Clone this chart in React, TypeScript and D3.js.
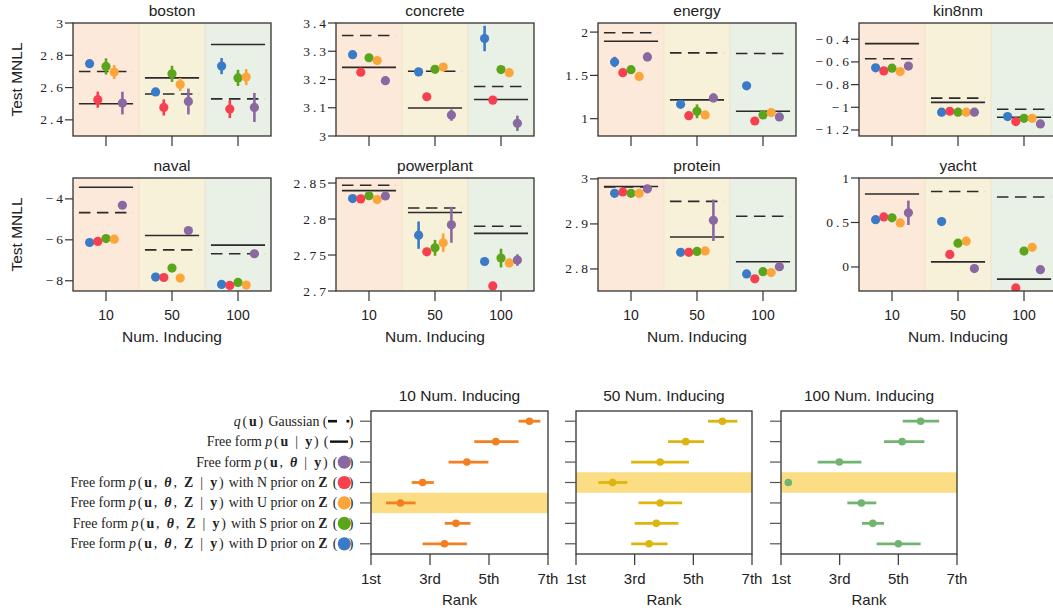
import * as d3 from "d3";

const W = 1053;
const H = 616;

const inducing = ["10", "50", "100"];
const methods = ["D", "N", "S", "U", "theta"];
const methodColors = ["#3a7bc8", "#f6404f", "#5aa51c", "#fca53a", "#8a68a1"];
const bandColors = ["#fde9d9", "#f7f1da", "#e9f0e6"];

// ---- Test MNLL per dataset: rows = num. inducing (10, 50, 100), cols = D, N, S, U, theta
const bostonMeans = [[2.748, 2.525, 2.731, 2.696, 2.504], [2.573, 2.477, 2.685, 2.619, 2.514], [2.733, 2.467, 2.66, 2.665, 2.477]];
const bostonErrs = [[0.02, 0.05, 0.05, 0.043, 0.07], [0.015, 0.05, 0.05, 0.04, 0.08], [0.05, 0.056, 0.05, 0.05, 0.09]];
const bostonGauss = [2.7, 2.56, 2.53];
const bostonFree = [2.5, 2.66, 2.867];

const concreteMeans = [[3.288, 3.226, 3.277, 3.267, 3.196], [3.227, 3.139, 3.236, 3.244, 3.074], [3.345, 3.127, 3.235, 3.224, 3.045]];
const concreteErrs = [[0.01, 0.01, 0.014, 0.008, 0.01], [0.01, 0.01, 0.01, 0.01, 0.02], [0.045, 0.005, 0.005, 0.005, 0.027]];
const concreteGauss = [3.356, 3.229, 3.175];
const concreteFree = [3.243, 3.099, 3.129];

const energyMeans = [[1.655, 1.531, 1.566, 1.488, 1.713], [1.166, 1.035, 1.085, 1.043, 1.24], [1.38, 0.973, 1.043, 1.07, 1.02]];
const energyErrs = [[0.06, 0.03, 0.03, 0.03, 0.05], [0.03, 0.04, 0.08, 0.03, 0.05], [0.02, 0.03, 0.03, 0.02, 0.03]];
const energyGauss = [1.992, 1.76, 1.752];
const energyFree = [1.895, 1.217, 1.085];

const kin8nmMeans = [[-0.652, -0.679, -0.655, -0.685, -0.637], [-1.043, -1.035, -1.043, -1.043, -1.043], [-1.082, -1.126, -1.097, -1.097, -1.147]];
const kin8nmErrs = [[0.01, 0.01, 0.01, 0.01, 0.01], [0.01, 0.01, 0.01, 0.01, 0.01], [0.01, 0.01, 0.01, 0.01, 0.01]];
const kin8nmGauss = [-0.572, -0.919, -1.017];
const kin8nmFree = [-0.439, -0.957, -1.088];

const navalMeans = [[-6.13, -6.08, -5.94, -5.97, -4.31], [-7.82, -7.84, -7.38, -7.87, -5.55], [-8.18, -8.23, -8.08, -8.21, -6.68]];
const navalErrs = [[0.05, 0.05, 0.05, 0.05, 0.05], [0.05, 0.05, 0.05, 0.05, 0.05], [0.05, 0.05, 0.05, 0.05, 0.05]];
const navalGauss = [-4.67, -6.49, -6.68];
const navalFree = [-3.43, -5.79, -6.26];

const powerplantMeans = [[2.8284, 2.828, 2.8325, 2.827, 2.832], [2.7776, 2.7544, 2.76, 2.767, 2.792], [2.741, 2.707, 2.7457, 2.739, 2.743]];
const powerplantErrs = [[0.003, 0.003, 0.004, 0.005, 0.004], [0.019, 0.004, 0.011, 0.013, 0.025], [0.005, 0.003, 0.013, 0.006, 0.008]];
const powerplantGauss = [2.847, 2.8154, 2.79];
const powerplantFree = [2.8395, 2.809, 2.78];

const proteinMeans = [[2.968, 2.971, 2.968, 2.968, 2.978], [2.837, 2.837, 2.839, 2.84, 2.908], [2.789, 2.778, 2.794, 2.792, 2.805]];
const proteinErrs = [[0.003, 0.003, 0.003, 0.003, 0.003], [0.003, 0.003, 0.003, 0.003, 0.046], [0.004, 0.004, 0.004, 0.004, 0.004]];
const proteinGauss = [2.982, 2.95, 2.917];
const proteinFree = [2.983, 2.871, 2.816];

const yachtMeans = [[0.532, 0.563, 0.552, 0.495, 0.609], [0.51, 0.141, 0.267, 0.29, -0.018], [null, -0.235, 0.179, 0.221, -0.03]];
const yachtErrs = [[0.03, 0.03, 0.03, 0.03, 0.137], [0.02, 0.02, 0.02, 0.02, 0.02], [0.02, 0.02, 0.02, 0.02, 0.02]];
const yachtGauss = [null, 0.848, 0.787];
const yachtFree = [0.821, 0.057, -0.137];

// ---- Rank summary (rows top to bottom)
const rankLabels = [
  "{i:q}{m:(}{b:u}{m:)} Gaussian (",
  "Free form {i:p}{m:(}{b:u}{m: | }{b:y}{m:)} (",
  "Free form {i:p}{m:(}{b:u}{m:, }{bi:θ}{m: | }{b:y}{m:)} (",
  "Free form {i:p}{m:(}{b:u}{m:, }{bi:θ}{m:, }{b:Z}{m: | }{b:y}{m:)} with N prior on {b:Z} (",
  "Free form {i:p}{m:(}{b:u}{m:, }{bi:θ}{m:, }{b:Z}{m: | }{b:y}{m:)} with U prior on {b:Z} (",
  "Free form {i:p}{m:(}{b:u}{m:, }{bi:θ}{m:, }{b:Z}{m: | }{b:y}{m:)} with S prior on {b:Z} (",
  "Free form {i:p}{m:(}{b:u}{m:, }{bi:θ}{m:, }{b:Z}{m: | }{b:y}{m:)} with D prior on {b:Z} (",
];
const rankMarkerColors = [null, null, "#8a68a1", "#f6404f", "#fca53a", "#5aa51c", "#3a7bc8"];

const rank10Mean = [6.37, 5.23, 4.25, 2.75, 2.0, 3.88, 3.49];
const rank10Lo = [6.0, 4.5, 3.63, 2.38, 1.51, 3.5, 2.75];
const rank10Hi = [6.74, 6.0, 4.98, 3.13, 2.51, 4.37, 4.25];
const rank50Mean = [5.99, 4.74, 3.87, 2.25, 3.87, 3.74, 3.49];
const rank50Lo = [5.5, 4.14, 2.88, 1.76, 3.13, 3.0, 2.88];
const rank50Hi = [6.5, 5.37, 4.85, 2.75, 4.62, 4.49, 4.12];
const rank100Mean = [5.76, 5.13, 2.99, 1.25, 3.74, 4.13, 5.0];
const rank100Lo = [5.15, 4.51, 2.25, 1.25, 3.26, 3.76, 4.26];
const rank100Hi = [6.39, 5.89, 3.74, 1.25, 4.25, 4.51, 5.76];
const rankTicks = [1, 3, 5, 7];
const rankTickLabels = ["1st", "3rd", "5th", "7th"];

const SANS = "Liberation Sans, Arial, sans-serif";
const SERIF = "Liberation Serif, Times New Roman, serif";
const AX = "#333";

const panels = [
  { name: "boston", means: bostonMeans, errs: bostonErrs, gauss: bostonGauss, free: bostonFree, domain: [2.3, 3], ticks: [2.4, 2.6, 2.8, 3] },
  { name: "concrete", means: concreteMeans, errs: concreteErrs, gauss: concreteGauss, free: concreteFree, domain: [3, 3.4], ticks: [3, 3.1, 3.2, 3.3, 3.4] },
  { name: "energy", means: energyMeans, errs: energyErrs, gauss: energyGauss, free: energyFree, domain: [0.8, 2.105], ticks: [1, 1.5, 2] },
  { name: "kin8nm", means: kin8nmMeans, errs: kin8nmErrs, gauss: kin8nmGauss, free: kin8nmFree, domain: [-1.253, -0.257], ticks: [-1.2, -1, -0.8, -0.6, -0.4] },
  { name: "naval", means: navalMeans, errs: navalErrs, gauss: navalGauss, free: navalFree, domain: [-8.5, -2.98], ticks: [-8, -6, -4] },
  { name: "powerplant", means: powerplantMeans, errs: powerplantErrs, gauss: powerplantGauss, free: powerplantFree, domain: [2.7, 2.857], ticks: [2.7, 2.75, 2.8, 2.85] },
  { name: "protein", means: proteinMeans, errs: proteinErrs, gauss: proteinGauss, free: proteinFree, domain: [2.751, 3.002], ticks: [2.8, 2.9, 3] },
  { name: "yacht", means: yachtMeans, errs: yachtErrs, gauss: yachtGauss, free: yachtFree, domain: [-0.27, 1.0], ticks: [0, 0.5, 1] },
];

const colLefts = [73, 336, 598, 859];
const rowTops = [23, 178];
const PW = 198;
const PH = 113;

const fmt = (v) => String(v).replace("-", "\u2212");

function ScorePanel({ p, idx }) {
  const col = idx % 4;
  const row = Math.floor(idx / 4);
  const x0 = colLefts[col];
  const y0 = rowTops[row];
  const x = d3.scaleBand().domain(inducing).range([x0, x0 + PW]);
  const y = d3.scaleLinear().domain(p.domain).range([y0 + PH, y0]);
  const off = d3.scalePoint().domain(methods).range([-16.4, 16.4]);
  const bw = x.bandwidth();
  const clipId = "clip-" + p.name;
  return (
    <g>
      <defs>
        <clipPath id={clipId}>
          <rect x={x0} y={y0} width={PW} height={PH} />
        </clipPath>
      </defs>
      <g clipPath={`url(#${clipId})`}>
        {inducing.map((k, i) => (
          <rect key={k} x={x(k)} y={y0} width={bw} height={PH} fill={bandColors[i]} stroke="#efe3c8" strokeWidth={0.8} />
        ))}
        {inducing.map((k, i) => {
          const c = x(k) + bw / 2;
          return (
            <g key={k}>
              {p.gauss[i] != null && (
                <line x1={c - 0.41 * bw} x2={c + 0.41 * bw} y1={y(p.gauss[i])} y2={y(p.gauss[i])} stroke="#2a2a2a" strokeWidth={1.6} strokeDasharray="11.5,6.5" />
              )}
              <line x1={c - 0.41 * bw} x2={c + 0.41 * bw} y1={y(p.free[i])} y2={y(p.free[i])} stroke="#2a2a2a" strokeWidth={1.6} />
              {methods.map((m, j) => {
                const v = p.means[i][j];
                if (v == null) return null;
                const e = p.errs[i][j];
                const cx = c + off(m);
                return (
                  <g key={m}>
                    <line x1={cx} x2={cx} y1={y(v - e)} y2={y(v + e)} stroke={methodColors[j]} strokeWidth={2.6} />
                    <circle cx={cx} cy={y(v)} r={4.6} fill={methodColors[j]} />
                  </g>
                );
              })}
            </g>
          );
        })}
      </g>
      <rect x={x0} y={y0} width={PW} height={PH} fill="none" stroke={AX} strokeWidth={1.3} />
      {p.ticks.map((t) => (
        <g key={t}>
          <line x1={x0 - 8} x2={x0} y1={y(t)} y2={y(t)} stroke={AX} strokeWidth={1.2} />
          <text x={x0 - 7} y={y(t) + 4.5} textAnchor="end" fontFamily={SERIF} fontSize={13.5} letterSpacing={3} fill="#222">
            {fmt(t)}
          </text>
        </g>
      ))}
      {inducing.map((k) => (
        <g key={k}>
          <line x1={x(k) + bw / 2} x2={x(k) + bw / 2} y1={y0 + PH} y2={y0 + PH + 10} stroke={AX} strokeWidth={1.2} />
          {row === 1 && (
            <text x={x(k) + bw / 2} y={y0 + PH + 29} textAnchor="middle" fontFamily={SANS} fontSize={14} fill="#222">
              {k}
            </text>
          )}
        </g>
      ))}
      {row === 1 && (
        <text x={x0 + PW / 2} y={y0 + PH + 51} textAnchor="middle" fontFamily={SANS} fontSize={15.5} fill="#222">
          Num. Inducing
        </text>
      )}
      <text x={x0 + PW / 2} y={y0 - 7} textAnchor="middle" fontFamily={SANS} fontSize={15.5} fill="#222">
        {p.name}
      </text>
      {col === 0 && (
        <text transform={`translate(22,${y0 + PH / 2}) rotate(-90)`} textAnchor="middle" fontFamily={SANS} fontSize={15.5} fill="#222">
          Test MNLL
        </text>
      )}
    </g>
  );
}

function parseMarkup(s) {
  const out = [];
  const re = /\{(\w+):([^}]+)\}/g;
  let last = 0;
  let m;
  while ((m = re.exec(s)) !== null) {
    if (m.index > last) out.push({ t: s.slice(last, m.index), s: "r" });
    out.push({ t: m[2], s: m[1] });
    last = re.lastIndex;
  }
  if (last < s.length) out.push({ t: s.slice(last), s: "r" });
  return out;
}

const tspanStyle = (s) => {
  if (s === "i") return { fontStyle: "italic", letterSpacing: 1.8 };
  if (s === "b") return { fontWeight: "bold", letterSpacing: 1.8 };
  if (s === "bi") return { fontWeight: "bold", fontStyle: "italic", letterSpacing: 1.8 };
  if (s === "m") return { letterSpacing: 1.8 };
  return {};
};

const rankPanels = [
  { title: "10 Num. Inducing", mean: rank10Mean, lo: rank10Lo, hi: rank10Hi, color: "#f47f20", highlight: 4, x0: 371, x1: 548 },
  { title: "50 Num. Inducing", mean: rank50Mean, lo: rank50Lo, hi: rank50Hi, color: "#deb40f", highlight: 3, x0: 576, x1: 752 },
  { title: "100 Num. Inducing", mean: rank100Mean, lo: rank100Lo, hi: rank100Hi, color: "#70b470", highlight: 3, x0: 781, x1: 957 },
];
const RY0 = 411;
const RY1 = 554;

function RankPanel({ r, idx }) {
  const x = d3.scaleLinear().domain([1, 7]).range([r.x0, r.x1]);
  const y = d3.scaleBand().domain(d3.range(7).map(String)).range([RY0, RY1]);
  const bh = y.bandwidth();
  const cy = (i) => y(String(i)) + bh / 2;
  return (
    <g>
      <rect x={r.x0} y={y(String(r.highlight))} width={r.x1 - r.x0} height={bh} fill="#fbdd84" />
      {r.mean.map((v, i) => (
        <g key={i}>
          <line x1={x(r.lo[i])} x2={x(r.hi[i])} y1={cy(i)} y2={cy(i)} stroke={r.color} strokeWidth={2.8} />
          <circle cx={x(v)} cy={cy(i)} r={3.8} fill={r.color} />
        </g>
      ))}
      <rect x={r.x0} y={RY0} width={r.x1 - r.x0} height={RY1 - RY0} fill="none" stroke={AX} strokeWidth={1.3} />
      {r.mean.map((v, i) => (
        <line key={i} x1={r.x0 - 11} x2={r.x0} y1={cy(i)} y2={cy(i)} stroke="#555" strokeWidth={1.2} />
      ))}
      {rankTicks.map((t, i) => (
        <g key={t}>
          <line x1={x(t)} x2={x(t)} y1={RY1} y2={RY1 + 11} stroke={AX} strokeWidth={1.2} />
          <text x={x(t)} y={RY1 + 30} textAnchor="middle" fontFamily={SANS} fontSize={15} fill="#222">
            {rankTickLabels[i]}
          </text>
        </g>
      ))}
      <text x={(r.x0 + r.x1) / 2} y={RY1 + 51} textAnchor="middle" fontFamily={SANS} fontSize={15} fill="#222">
        Rank
      </text>
      <text x={(r.x0 + r.x1) / 2} y={RY0 - 10} textAnchor="middle" fontFamily={SANS} fontSize={15.5} fill="#222">
        {r.title}
      </text>
      {idx === 0 &&
        rankLabels.map((lab, i) => {
          const parts = parseMarkup(lab);
          const endX = i === 0 ? 327.5 : i === 1 ? 328.5 : 337.5;
          const yy = cy(i);
          return (
            <g key={i}>
              <text x={endX} y={yy + 4.5} textAnchor="end" fontFamily={SERIF} fontSize={13.9} fill="#222" style={{ whiteSpace: "pre" }}>
                {parts.map((pp, k) => (
                  <tspan key={k} {...tspanStyle(pp.s)}>
                    {pp.t}
                  </tspan>
                ))}
              </text>
              {i === 0 && (
                <g>
                  <line x1={328} x2={337} y1={yy} y2={yy} stroke="#111" strokeWidth={2.6} />
                  <rect x={346.5} y={yy - 1.3} width={2.8} height={2.6} fill="#111" />
                </g>
              )}
              {i === 1 && <line x1={330} x2={348} y1={yy} y2={yy} stroke="#111" strokeWidth={2.4} />}
              {rankMarkerColors[i] && <circle cx={344.3} cy={yy} r={6.6} fill={rankMarkerColors[i]} />}
              <text x={353.5} y={yy + 4.5} textAnchor="end" fontFamily={SERIF} fontSize={13.9} fill="#222">
                )
              </text>
            </g>
          );
        })}
    </g>
  );
}

export default function App() {
  return (
    <svg width={W} height={H} style={{ position: "absolute", left: 0, top: 0, background: "#fff" }}>
      <rect width={W} height={H} fill="#fff" />
      {panels.map((p, i) => (
        <ScorePanel key={p.name} p={p} idx={i} />
      ))}
      {rankPanels.map((r, i) => (
        <RankPanel key={r.title} r={r} idx={i} />
      ))}
    </svg>
  );
}
